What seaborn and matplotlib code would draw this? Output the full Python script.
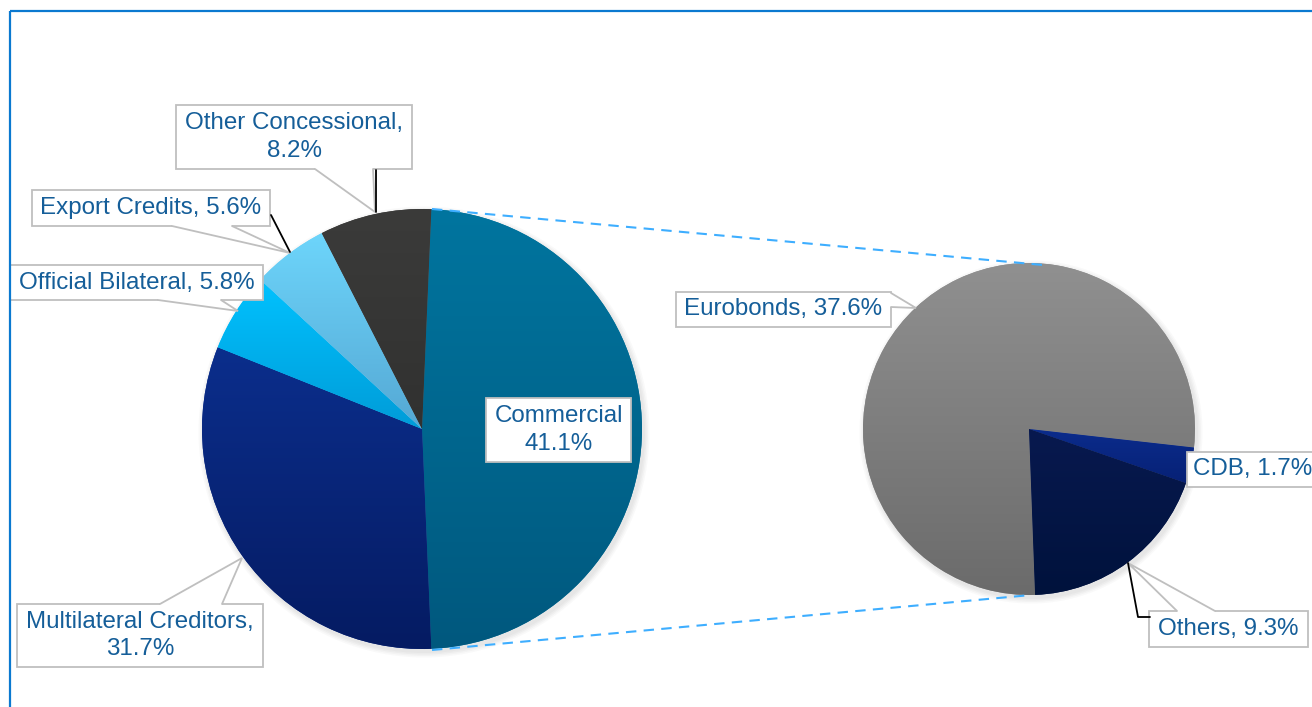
import numpy as np
import matplotlib
matplotlib.use("Agg")
import matplotlib.pyplot as plt
import seaborn as sns
from matplotlib.colors import LinearSegmentedColormap
from matplotlib.patches import Rectangle, Polygon, Circle

# ---------------- data ----------------
main_labels = ["Commercial", "Multilateral Creditors", "Official Bilateral",
               "Export Credits", "Other Concessional"]
main_pcts = [41.1, 31.7, 5.8, 5.6, 8.2]          # label values
sub_labels = ["Eurobonds", "CDB", "Others"]
sub_pcts = [37.6, 1.7, 9.3]

# Commercial slice is drawn as the total of the split-out secondary pie
main_sizes = [sum(sub_pcts)] + main_pcts[1:]

# ---------------- style ----------------
sns.set_theme(style="white")
plt.rcParams["font.family"] = ["Liberation Sans", "DejaVu Sans"]

W, H = 1312, 707
fig = plt.figure(figsize=(W / 100, H / 100), dpi=100)
ax = fig.add_axes([0, 0, 1, 1])

def Y(py):
    return H - py

# gradient colors (top, bottom) per slice
main_cols = [("#00759F", "#00587E"), ("#0B2E8C", "#051B62"), ("#00C2FF", "#009CD8"),
             ("#6DD5FB", "#55A8D4"), ("#3B3B3A", "#313130")]
sub_cols = [("#909090", "#6B6B6B"), ("#0B2C8C", "#072176"), ("#08194F", "#00123C")]

main_center, main_r = (422, Y(429)), 220
sub_center, sub_r = (1029, Y(429)), 166

def shadow(center, r):
    for i, a in enumerate([0.05, 0.05, 0.05, 0.04]):
        ax.add_patch(Circle((center[0] + 2, center[1] - 3), r + 1 + i * 1.5,
                            facecolor="#7f7f7f", edgecolor="none", alpha=a, zorder=0.5))

def gradient_pie(sizes, cols, center, r, startangle):
    wedges, _ = ax.pie(sizes, colors=[c[0] for c in cols], startangle=startangle,
                       counterclock=False, center=center, radius=r,
                       wedgeprops=dict(linewidth=0, edgecolor="none"))
    grad = np.linspace(0, 1, 256).reshape(-1, 1)
    for w, (top, bot) in zip(wedges, cols):
        ext = w.get_path().get_extents()
        cmap = LinearSegmentedColormap.from_list("g", [bot, top])
        im = ax.imshow(grad, extent=[ext.x0, ext.x1, ext.y0, ext.y1], origin="lower",
                       cmap=cmap, aspect="auto", interpolation="bilinear", zorder=1.5)
        im.set_clip_path(w)
    return wedges

shadow(main_center, main_r)
shadow(sub_center, sub_r)
main_start = main_sizes[0] / sum(main_sizes) * 180
gradient_pie(main_sizes, main_cols, main_center, main_r, main_start)
gradient_pie(sub_pcts, sub_cols, sub_center, sub_r, -87.9)

# dashed connectors
conn_kw = dict(color="#3EAEFF", lw=1.5, dashes=(5, 3.5), zorder=3)
ax.plot([432, 1043], [Y(209), Y(265)], **conn_kw)
ax.plot([432, 1031], [Y(650), Y(595)], **conn_kw)

TXT = "#155E99"
EDGE = "#BFBFBF"
FS = 17.4

def callout(text, box, pointer=None, side="bottom", text_x=None):
    x0, y0, x1, y1 = box
    ax.add_patch(Rectangle((x0, Y(y1)), x1 - x0, y1 - y0, facecolor="white",
                           edgecolor=EDGE, lw=1.3, zorder=4))
    if pointer is not None:
        b1, b2, tip = pointer
        if side == "bottom":
            inset = [(b2[0], Y(b2[1] - 3)), (b1[0], Y(b1[1] - 3))]
        elif side == "top":
            inset = [(b2[0], Y(b2[1] + 3)), (b1[0], Y(b1[1] + 3))]
        else:  # right
            inset = [(b2[0] - 3, Y(b2[1])), (b1[0] - 3, Y(b1[1]))]
        pts = [(b1[0], Y(b1[1])), (tip[0], Y(tip[1])), (b2[0], Y(b2[1]))] + inset
        ax.add_patch(Polygon(pts, closed=True, facecolor="white", edgecolor="none", zorder=5))
        ax.plot([b1[0], tip[0], b2[0]], [Y(b1[1]), Y(tip[1]), Y(b2[1])],
                color=EDGE, lw=1.3, zorder=6, solid_joinstyle="miter")
    if text_x is None:
        ax.text((x0 + x1) / 2, Y((y0 + y1) / 2), text, ha="center", va="center",
                fontsize=FS, color=TXT, linespacing=1.35, zorder=7)
    else:
        ax.text(text_x, Y((y0 + y1) / 2), text, ha="left", va="center",
                fontsize=FS, color=TXT, zorder=7)

# main pie labels
callout(f"{main_labels[4]},\n{main_pcts[4]}%", (176, 105, 412, 169),
        ((315, 169), (373, 169), (375, 212)))
ax.plot([376, 376], [Y(170), Y(212)], color="black", lw=1.3, zorder=6)

callout(f"{main_labels[3]}, {main_pcts[3]}%", (32, 190, 270, 226),
        ((172, 226), (232, 226), (290, 253)))
ax.plot([271, 290], [Y(215), Y(252)], color="black", lw=1.3, zorder=6)

callout(f"{main_labels[2]}, {main_pcts[2]}%", (10, 265, 263, 300),
        ((158, 300), (221, 300), (238, 311)))

callout(f"{main_labels[0]}\n{main_pcts[0]}%", (486, 398, 631, 462))

callout(f"{main_labels[1]},\n{main_pcts[1]}%", (17, 604, 263, 667),
        ((160, 604), (222, 604), (242, 558)), side="top")

# secondary pie labels
callout(f"{sub_labels[0]}, {sub_pcts[0]}%", (676, 292, 891, 327),
        ((891, 293), (891, 307), (916, 308)), side="right")

callout(f"{sub_labels[1]}, {sub_pcts[1]}%", (1187, 452, 1330, 487), text_x=1193)

callout(f"{sub_labels[2]}, {sub_pcts[2]}%", (1149, 611, 1308, 647),
        ((1177, 611), (1215, 611), (1128, 563)), side="top")
ax.plot([1128, 1138, 1150], [Y(563), Y(617), Y(617)], color="black", lw=1.3, zorder=6)

# outer frame (top and left edges visible)
ax.plot([9.5, W + 5], [Y(10.5), Y(10.5)], color="#0B79D0", lw=1.6, zorder=8,
        solid_capstyle="butt")
ax.plot([9.5, 9.5], [Y(10.5), -5], color="#0B79D0", lw=1.6, zorder=8,
        solid_capstyle="butt")

ax.set_xlim(0, W)
ax.set_ylim(0, H)
ax.set_aspect("auto")
ax.axis("off")
fig.savefig("out.png", dpi=100, facecolor="white")
